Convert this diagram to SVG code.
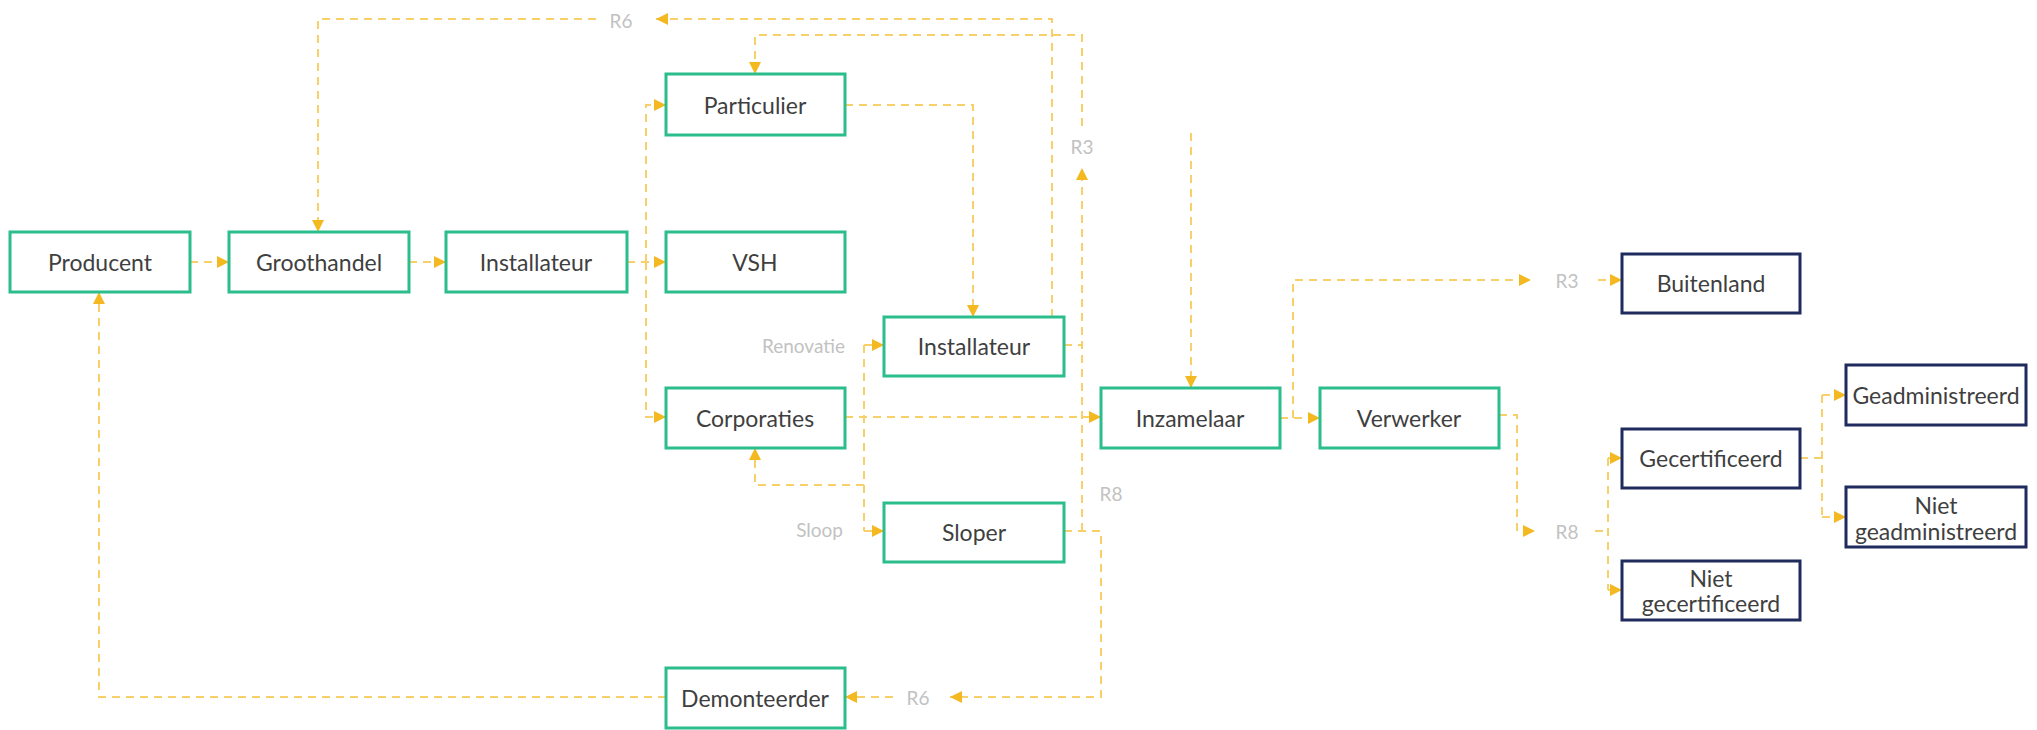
<svg xmlns="http://www.w3.org/2000/svg" width="2037" height="730" viewBox="0 0 2037 730">
  <style>
    .box { fill: #ffffff; stroke-width: 3; }
    .green { stroke: #2bbd8c; }
    .navy { stroke: #1f2b5c; }
    .lbl { font-family: Lato, "Liberation Sans", sans-serif; font-size: 23px; fill: #3f3f3f; text-anchor: middle; dominant-baseline: central; }
    .tag { font-family: Lato, "Liberation Sans", sans-serif; font-size: 19px; fill: #c2c2c2; dominant-baseline: central; }
    .flow { fill: none; stroke: #f8d06a; stroke-width: 2; stroke-dasharray: 8 6; }
    .arr { marker-end: url(#head); }
  </style>
  <defs>
    <marker id="head" markerUnits="userSpaceOnUse" markerWidth="12" markerHeight="12" viewBox="0 0 10 10" refX="10" refY="5" orient="auto">
      <path d="M0,0 L10,5 L0,10 z" fill="#f4b820"/>
    </marker>
  </defs>
  <rect width="2037" height="730" fill="#ffffff"/>

  <g id="connectors">
    <path class="flow arr" d="M190,262 H229"/>
    <path class="flow arr" d="M409,262 H446"/>
    <path class="flow arr" d="M627,262 H666"/>
    <path class="flow arr" d="M646,262 V105 H666"/>
    <path class="flow arr" d="M646,262 V417 H666"/>
    <path class="flow arr" d="M845,105 H973 V317"/>
    <path class="flow arr" d="M1052,317 V19 H656"/>
    <path class="flow arr" d="M596,19 H318 V232"/>
    <path class="flow" d="M1064,345 H1082"/>
    <path class="flow arr" d="M1082,531 V168"/>
    <path class="flow arr" d="M1082,126 V35 H755 V74"/>
    <path class="flow arr" d="M845,417 H1101"/>
    <path class="flow" d="M864,345 V531"/>
    <path class="flow arr" d="M864,345 H884"/>
    <path class="flow arr" d="M864,531 H884"/>
    <path class="flow arr" d="M864,485 H755 V448"/>
    <path class="flow arr" d="M1064,531 H1101 V697 H950"/>
    <path class="flow arr" d="M893,697 H845"/>
    <path class="flow arr" d="M666,697 H99 V292"/>
    <path class="flow arr" d="M1191,133 V388"/>
    <path class="flow arr" d="M1280,418 H1320"/>
    <path class="flow arr" d="M1293,418 V280 H1531"/>
    <path class="flow arr" d="M1598,280 H1622"/>
    <path class="flow arr" d="M1499,415 H1517 V531 H1535"/>
    <path class="flow" d="M1595,531 H1608"/>
    <path class="flow" d="M1608,458 V590"/>
    <path class="flow arr" d="M1608,458 H1622"/>
    <path class="flow arr" d="M1608,590 H1622"/>
    <path class="flow" d="M1800,458 H1822"/>
    <path class="flow" d="M1822,395 V517"/>
    <path class="flow arr" d="M1822,395 H1846"/>
    <path class="flow arr" d="M1822,517 H1846"/>

    <text class="tag" x="621" y="20" text-anchor="middle">R6</text>
    <text class="tag" x="1082" y="146" text-anchor="middle">R3</text>
    <text class="tag" x="1111" y="493" text-anchor="middle">R8</text>
    <text class="tag" x="918" y="697" text-anchor="middle">R6</text>
    <text class="tag" x="845" y="345" text-anchor="end">Renovatie</text>
    <text class="tag" x="843" y="529" text-anchor="end">Sloop</text>
    <text class="tag" x="1567" y="280" text-anchor="middle">R3</text>
    <text class="tag" x="1567" y="531" text-anchor="middle">R8</text>
  </g>

  <g id="producent"><rect class="box green" x="10" y="232" width="180" height="60"/><text class="lbl" x="100" y="262">Producent</text></g>
  <g id="groothandel"><rect class="box green" x="229" y="232" width="180" height="60"/><text class="lbl" x="319" y="262">Groothandel</text></g>
  <g id="installateur-1"><rect class="box green" x="446" y="232" width="181" height="60"/><text class="lbl" x="536" y="262">Installateur</text></g>
  <g id="particulier"><rect class="box green" x="666" y="74" width="179" height="61"/><text class="lbl" x="755" y="105">Particulier</text></g>
  <g id="vsh"><rect class="box green" x="666" y="232" width="179" height="60"/><text class="lbl" x="755" y="262">VSH</text></g>
  <g id="corporaties"><rect class="box green" x="666" y="388" width="179" height="60"/><text class="lbl" x="755" y="418">Corporaties</text></g>
  <g id="demonteerder"><rect class="box green" x="666" y="668" width="179" height="60"/><text class="lbl" x="755" y="698">Demonteerder</text></g>
  <g id="installateur-2"><rect class="box green" x="884" y="317" width="180" height="59"/><text class="lbl" x="974" y="346">Installateur</text></g>
  <g id="sloper"><rect class="box green" x="884" y="503" width="180" height="59"/><text class="lbl" x="974" y="532">Sloper</text></g>
  <g id="inzamelaar"><rect class="box green" x="1101" y="388" width="179" height="60"/><text class="lbl" x="1190" y="418">Inzamelaar</text></g>
  <g id="verwerker"><rect class="box green" x="1320" y="388" width="179" height="60"/><text class="lbl" x="1409" y="418">Verwerker</text></g>
  <g id="buitenland"><rect class="box navy" x="1622" y="254" width="178" height="59"/><text class="lbl" x="1711" y="283">Buitenland</text></g>
  <g id="gecertificeerd"><rect class="box navy" x="1622" y="429" width="178" height="59"/><text class="lbl" x="1711" y="458">Gecertificeerd</text></g>
  <g id="niet-gecertificeerd"><rect class="box navy" x="1622" y="561" width="178" height="59"/><text class="lbl" x="1711" y="578">Niet</text><text class="lbl" x="1711" y="603">gecertificeerd</text></g>
  <g id="geadministreerd"><rect class="box navy" x="1846" y="365" width="180" height="60"/><text class="lbl" x="1936" y="395">Geadministreerd</text></g>
  <g id="niet-geadministreerd"><rect class="box navy" x="1846" y="487" width="180" height="60"/><text class="lbl" x="1936" y="505">Niet</text><text class="lbl" x="1936" y="531">geadministreerd</text></g>
</svg>
